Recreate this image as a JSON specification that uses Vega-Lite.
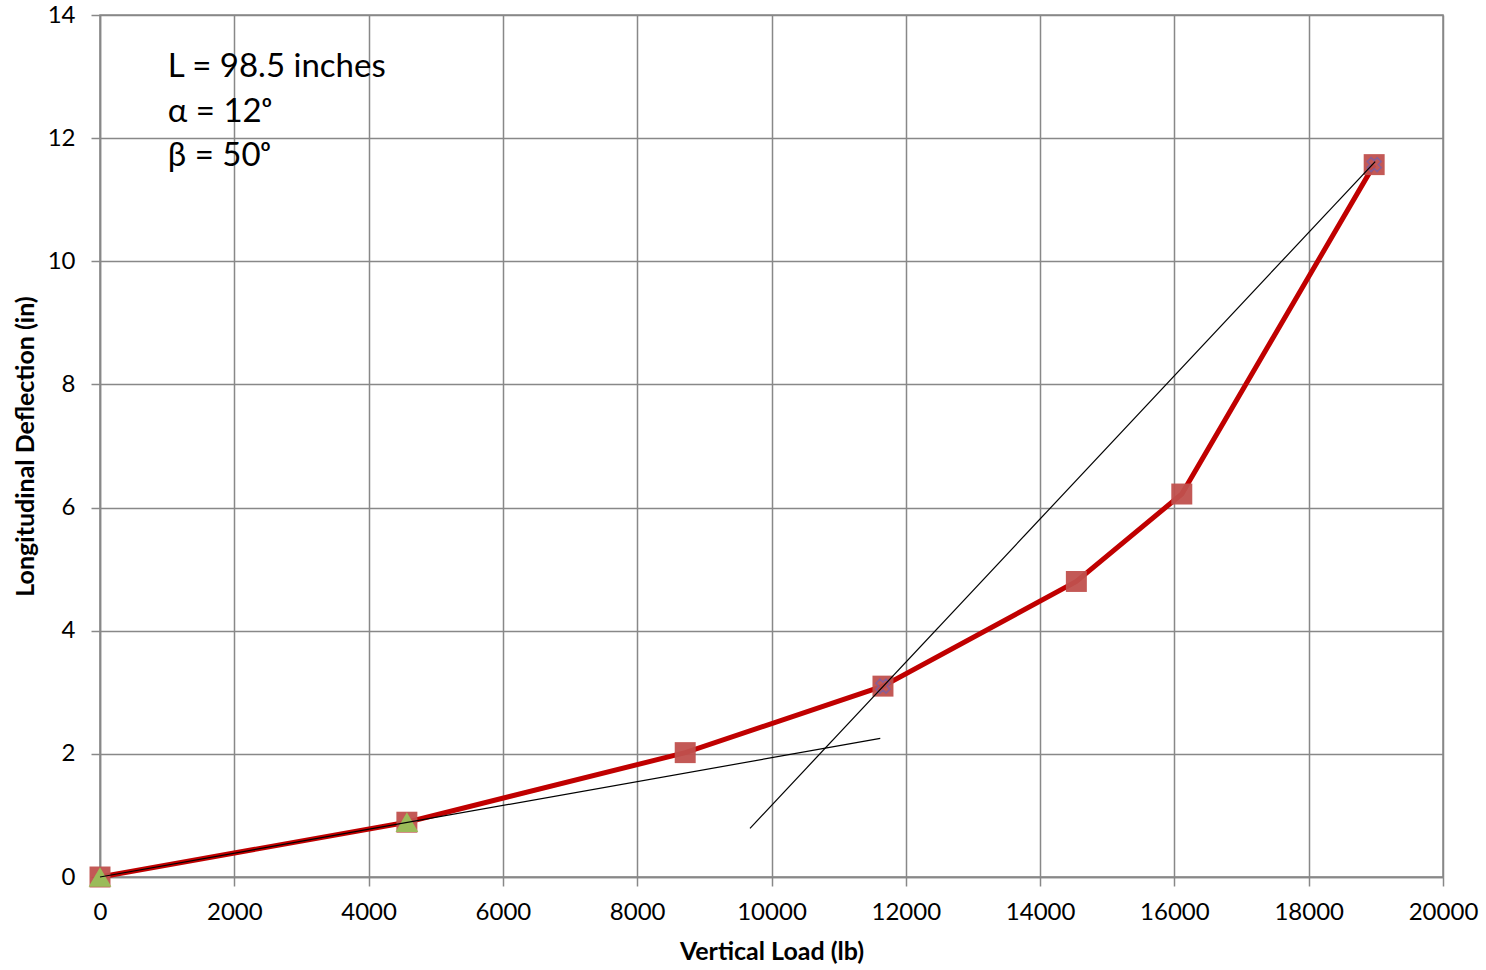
{
  "$schema": "https://vega.github.io/schema/vega-lite/v6.json",
  "width": 1343,
  "height": 862,
  "autosize": {"type": "none"},
  "padding": {"left": 100, "top": 15, "right": 43, "bottom": 93},
  "background": "white",
  "config": {
    "view": {"stroke": "#888888", "strokeWidth": 1.5},
    "font": "Lato",
    "axis": {
      "gridColor": "#888888", "gridWidth": 1.5, "gridOpacity": 1,
      "domainColor": "#888888", "domainWidth": 1.5,
      "tickColor": "#888888", "tickWidth": 1.5, "tickSize": 9,
      "labelFont": "Lato", "labelFontSize": 24, "labelColor": "#000000",
      "titleFont": "Lato", "titleFontSize": 25, "titleFontWeight": "bold", "titleColor": "#000000"
    }
  },
  "datasets": {
    "test": [
      {"load": 0, "defl": 0},
      {"load": 4570, "defl": 0.89},
      {"load": 8715, "defl": 2.02},
      {"load": 11660, "defl": 3.1},
      {"load": 14540, "defl": 4.8},
      {"load": 16110, "defl": 6.22},
      {"load": 18975, "defl": 11.57}
    ],
    "tri": [
      {"load": 0, "defl": 0},
      {"load": 4570, "defl": 0.89}
    ],
    "cross": [
      {"load": 11660, "defl": 3.1},
      {"load": 18975, "defl": 11.57}
    ],
    "tangents": [
      {"line": "a", "load": 0, "defl": 0},
      {"line": "a", "load": 11620, "defl": 2.25},
      {"line": "b", "load": 9680, "defl": 0.79},
      {"line": "b", "load": 18990, "defl": 11.62}
    ],
    "notes": [
      {"load": 1010, "defl": 13.0, "text": "L = 98.5 inches"},
      {"load": 1010, "defl": 12.27, "text": "α = 12ᵒ"},
      {"load": 1010, "defl": 11.55, "text": "β = 50ᵒ"}
    ]
  },
  "encoding": {
    "x": {"field": "load", "type": "quantitative",
      "scale": {"domain": [0, 20000], "nice": false, "zero": false},
      "axis": {"title": "Vertical Load (lb)", "values": [0,2000,4000,6000,8000,10000,12000,14000,16000,18000,20000], "format": "d", "labelPadding": 14, "titlePadding": 15, "labelFlush": false}},
    "y": {"field": "defl", "type": "quantitative",
      "scale": {"domain": [0, 14], "nice": false},
      "axis": {"title": "Longitudinal Deflection (in)", "values": [0,2,4,6,8,10,12,14], "labelPadding": 16, "titlePadding": 9}}
  },
  "layer": [
    {"data": {"name": "test"}, "mark": {"type": "line", "color": "#C00000", "strokeWidth": 5}},
    {"data": {"name": "test"}, "mark": {"type": "point", "shape": "square", "filled": true, "color": "#C0504D", "opacity": 0.95, "size": 440}},
    {"data": {"name": "tri"}, "mark": {"type": "point", "shape": "triangle-up", "filled": true, "color": "#9BBB59", "opacity": 1, "size": 520}},
    {"data": {"name": "cross"}, "mark": {"type": "point", "shape": "cross", "filled": false, "color": "#7060B0", "strokeWidth": 1.5, "size": 200, "angle": 45}},
    {"data": {"name": "tangents"}, "mark": {"type": "line", "color": "#000000", "strokeWidth": 1.2}, "encoding": {"detail": {"field": "line"}}},
    {"data": {"name": "notes"}, "mark": {"type": "text", "align": "left", "baseline": "alphabetic", "fontSize": 33, "font": "Lato", "color": "#000000"}, "encoding": {"text": {"field": "text"}}}
  ]
}
